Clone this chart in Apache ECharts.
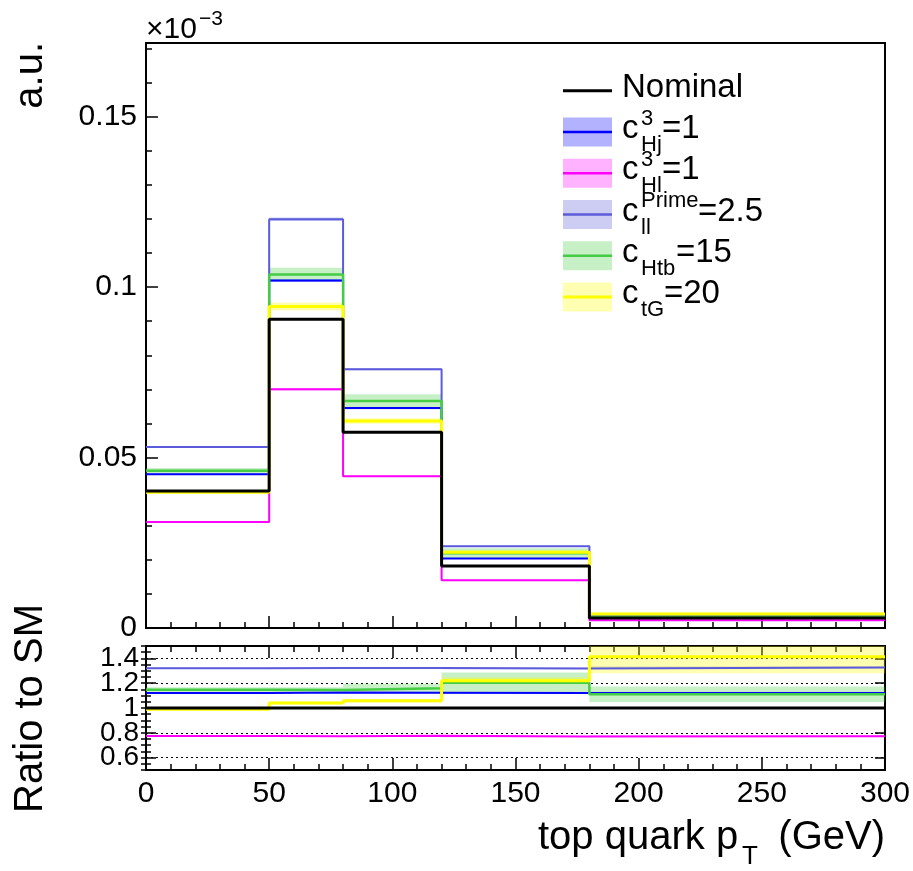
<!DOCTYPE html>
<html><head><meta charset="utf-8">
<script src="https://cdn.jsdelivr.net/npm/echarts@6/dist/echarts.min.js"></script>
<style>html,body{margin:0;padding:0;background:#fff}#c{width:913px;height:871px}</style>
</head><body><div id="c"></div>
<script>
// ---- data (values in units of 1e-3) ----
const binEdges   = [0, 50, 80, 120, 180, 300];
const nominal    = [0.0402, 0.0906, 0.0574, 0.0182, 0.0029];
const cHj3       = [0.0451, 0.1019, 0.0645, 0.0204, 0.00325];
const cHl3       = [0.0311, 0.0700, 0.0445, 0.0140, 0.00224];
const cllPrime   = [0.0531, 0.1199, 0.0759, 0.0240, 0.00385];
const cHtb       = [0.0461, 0.1037, 0.0666, 0.0219, 0.00322];
const ctG        = [0.0398, 0.0943, 0.0607, 0.0222, 0.0041];
const errHj3     = [0.0002, 0.0004, 0.0003, 0.0001, 0.00002];
const errHl3     = [0.0001, 0.0003, 0.0002, 0.0001, 0.00002];
const errllPrime = [0.0002, 0.0005, 0.0003, 0.0001, 0.00002];
const errHtb     = [0.0008, 0.0020, 0.0020, 0.0015, 0.00018];
const errtG      = [0.0004, 0.0012, 0.0008, 0.0005, 0.00039];
const xTickLabels      = [0, 50, 100, 150, 200, 250, 300];
const mainYTickLabels  = [0, 0.05, 0.1, 0.15];
const ratioYTickLabels = [0.6, 0.8, 1, 1.2, 1.4];
const ratioYLabelsA    = [0.6, 1, 1.4];
const ratioYLabelsB    = [0.8, 1.2];

const FONT = '"Liberation Sans", Arial, Helvetica, sans-serif';
const variations = [
  {vals: cHj3,     err: errHj3,     line: '#0000ff', band: 'rgba(0,0,255,0.3)',    w: 2},
  {vals: cHl3,     err: errHl3,     line: '#ff00ff', band: 'rgba(255,0,255,0.3)',  w: 2},
  {vals: cllPrime, err: errllPrime, line: '#5b5bdb', band: 'rgba(90,90,220,0.3)',  w: 2},
  {vals: cHtb,     err: errHtb,     line: '#44cc44', band: 'rgba(68,204,68,0.3)',  w: 2.5},
  {vals: ctG,      err: errtG,      line: '#ffff00', band: 'rgba(255,255,0,0.3)',  w: 3}
];

function stepData(vals) {
  const d = vals.map((v, i) => [binEdges[i], v]);
  d.push([binEdges[binEdges.length - 1], vals[vals.length - 1]]);
  return d;
}
function bandData(vals, err) {
  return vals.map((v, i) => [binEdges[i], binEdges[i + 1], v - err[i], v + err[i]]);
}
function bandRender(color) {
  return function (params, api) {
    const p0 = api.coord([api.value(0), api.value(3)]);
    const p1 = api.coord([api.value(1), api.value(2)]);
    const cs = params.coordSys;
    const r = echarts.graphic.clipRectByRect(
      {x: p0[0], y: p0[1], width: p1[0] - p0[0], height: p1[1] - p0[1]},
      {x: cs.x, y: cs.y, width: cs.width, height: cs.height});
    return r && {type: 'rect', shape: r, style: {fill: color}};
  };
}

const ratioOf = (vals) => vals.map((v, i) => v / nominal[i]);
const ratioErr = (err) => err.map((e, i) => e / nominal[i]);

const series = [];
variations.forEach(v => {
  series.push({type: 'custom', xAxisIndex: 0, yAxisIndex: 0, renderItem: bandRender(v.band),
    data: bandData(v.vals, v.err), encode: {x: [0, 1], y: [2, 3]}, silent: true, z: 1});
  series.push({type: 'custom', xAxisIndex: 1, yAxisIndex: 2, renderItem: bandRender(v.band),
    data: bandData(ratioOf(v.vals), ratioErr(v.err)), encode: {x: [0, 1], y: [2, 3]}, silent: true, z: 1});
});
variations.forEach(v => {
  series.push({type: 'line', step: 'end', xAxisIndex: 0, yAxisIndex: 0, data: stepData(v.vals),
    symbol: 'none', lineStyle: {color: v.line, width: v.w}, silent: true, z: 2});
  series.push({type: 'line', step: 'end', xAxisIndex: 1, yAxisIndex: 2, data: stepData(ratioOf(v.vals)),
    symbol: 'none', lineStyle: {color: v.line, width: v.w}, silent: true, z: 2});
});
series.push({type: 'line', step: 'end', xAxisIndex: 0, yAxisIndex: 0, data: stepData(nominal),
  symbol: 'none', lineStyle: {color: '#000', width: 3}, silent: true, z: 3});
series.push({type: 'line', step: 'end', xAxisIndex: 1, yAxisIndex: 2, data: stepData(ratioOf(nominal)),
  symbol: 'none', lineStyle: {color: '#000', width: 3}, silent: true, z: 3});

const MAIN_MAX = 0.1716;
const tickLabel = {fontFamily: FONT, fontSize: 30, color: '#000', hideOverlap: false};
const tk = {color: '#000', width: 1.5};

const option = {
  animation: false,
  backgroundColor: '#fff',
  grid: [
    {left: 146, right: 28, top: 43, height: 585, show: true, borderColor: '#000', borderWidth: 2, backgroundColor: 'transparent'},
    {left: 146, right: 28, top: 646, height: 124, show: true, borderColor: '#000', borderWidth: 2, backgroundColor: 'transparent'}
  ],
  xAxis: [
    {gridIndex: 0, type: 'value', min: 0, max: 300, interval: 50,
      axisLine: {show: true, onZero: false, lineStyle: {color: '#000', width: 2}},
      axisTick: {show: true, inside: true, length: 12, lineStyle: tk},
      minorTick: {show: true, splitNumber: 5, length: 6, lineStyle: tk},
      axisLabel: {show: false}, splitLine: {show: false}},
    {gridIndex: 1, type: 'value', position: 'bottom', min: 0, max: 300, interval: 50,
      axisLine: {show: true, onZero: false, lineStyle: {color: '#000', width: 2}},
      axisTick: {show: true, inside: true, length: 12, lineStyle: tk},
      minorTick: {show: true, splitNumber: 5, length: 6, lineStyle: tk},
      axisLabel: Object.assign({show: true, margin: 9, customValues: xTickLabels}, tickLabel),
      splitLine: {show: false}},
    {gridIndex: 1, type: 'value', position: 'top', min: 0, max: 300, interval: 50,
      axisLine: {show: true, onZero: false, lineStyle: {color: '#000', width: 2}},
      axisTick: {show: true, inside: true, length: 12, lineStyle: tk},
      minorTick: {show: true, splitNumber: 5, length: 6, lineStyle: tk},
      axisLabel: {show: false}, splitLine: {show: false}}
  ],
  yAxis: [
    {gridIndex: 0, type: 'value', position: 'left', min: 0, max: MAIN_MAX,
      axisLine: {show: true, onZero: false, lineStyle: {color: '#000', width: 2}},
      axisTick: {show: true, inside: true, length: 12, customValues: mainYTickLabels, lineStyle: tk},
      axisLabel: Object.assign({show: true, margin: 9, customValues: mainYTickLabels,
        formatter: v => String(v)}, tickLabel),
      splitLine: {show: false}},
    {gridIndex: 0, type: 'value', position: 'left', min: 0, max: MAIN_MAX, interval: 0.01,
      axisLine: {show: false},
      axisTick: {show: true, inside: true, length: 6, lineStyle: tk},
      axisLabel: {show: false}, splitLine: {show: false}},
    {gridIndex: 1, type: 'value', position: 'left', min: 0.5, max: 1.5,
      axisLine: {show: true, onZero: false, lineStyle: {color: '#000', width: 2}},
      axisTick: {show: true, inside: true, length: 10, customValues: ratioYTickLabels, lineStyle: tk},
      axisLabel: Object.assign({show: true, margin: 7, customValues: ratioYLabelsA,
        formatter: v => String(v)}, tickLabel, {fontSize: 28}),
      splitLine: {show: true, lineStyle: {color: '#000', width: 1.2, type: [2, 3]}}},
    {gridIndex: 1, type: 'value', position: 'left', min: 0.5, max: 1.5, interval: 0.05,
      axisLine: {show: false},
      axisTick: {show: true, inside: true, length: 5, lineStyle: tk},
      axisLabel: {show: false}, splitLine: {show: false}},
    {gridIndex: 1, type: 'value', position: 'right', min: 0.5, max: 1.5,
      axisLine: {show: true, onZero: false, lineStyle: {color: '#000', width: 2}},
      axisTick: {show: true, inside: true, length: 10, customValues: ratioYTickLabels, lineStyle: tk},
      axisLabel: {show: false}, splitLine: {show: false}},
    {gridIndex: 1, type: 'value', position: 'right', min: 0.5, max: 1.5, interval: 0.05,
      axisLine: {show: false},
      axisTick: {show: true, inside: true, length: 5, lineStyle: tk},
      axisLabel: {show: false}, splitLine: {show: false}},
    {gridIndex: 1, type: 'value', position: 'left', offset: 0, min: 0.5, max: 1.5,
      axisLine: {show: false}, axisTick: {show: false},
      axisLabel: Object.assign({show: true, margin: 7, customValues: ratioYLabelsB,
        formatter: v => String(v)}, tickLabel, {fontSize: 28}),
      splitLine: {show: false}}
  ],
  series: series,
  graphic: []
};

// ---- texts and legend ----
const G = option.graphic;
function txt(x, y, text, size, align, extra) {
  G.push(Object.assign({type: 'text', x: x, y: y, silent: true, z: 10,
    style: {text: text, fill: '#000', font: size + 'px ' + FONT, align: align || 'left', verticalAlign: 'middle'}}, extra || {}));
}
txt(31, 42, 'a.u.', 40, 'right', {rotation: Math.PI / 2});
txt(31, 813, 'Ratio to SM', 40, 'left', {rotation: Math.PI / 2});
txt(538, 838, 'top quark p', 40, 'left');
txt(742, 857, 'T', 26, 'left');
txt(885, 838, '(GeV)', 40, 'right');
txt(146, 30, '\u00d710', 30, 'left');
txt(199, 19, '\u22123', 21, 'left');

const legendRows = [
  {c: '#000', band: null, main: 'Nominal', sup: '', sub: '', tail: '', tailX: 0, w: 3},
  {c: '#0000ff', band: 'rgba(0,0,255,0.3)', main: 'c', sup: '3', sub: 'Hj', tail: '=1', tailX: 662, w: 2.5},
  {c: '#ff00ff', band: 'rgba(255,0,255,0.3)', main: 'c', sup: '3', sub: 'Hl', tail: '=1', tailX: 662, w: 2.5},
  {c: '#5b5bdb', band: 'rgba(90,90,220,0.3)', main: 'c', sup: 'Prime', sub: 'll', tail: '=2.5', tailX: 698, w: 2.5},
  {c: '#44cc44', band: 'rgba(68,204,68,0.3)', main: 'c', sup: '', sub: 'Htb', tail: '=15', tailX: 676, w: 2.5},
  {c: '#ffff00', band: 'rgba(255,255,0,0.3)', main: 'c', sup: '', sub: 'tG', tail: '=20', tailX: 664, w: 3}
];
legendRows.forEach((r, i) => {
  const y = 90.7 + i * 41.26;
  if (r.band) G.push({type: 'rect', silent: true, z: 10, shape: {x: 563, y: y - 14.5, width: 49, height: 29}, style: {fill: r.band}});
  G.push({type: 'line', silent: true, z: 11, shape: {x1: 563, y1: y, x2: 612, y2: y}, style: {stroke: r.c, lineWidth: r.w}});
  txt(622, y - 3, r.main, 33, 'left');
  if (r.sup) txt(641, y - 13.5, r.sup, 22, 'left');
  if (r.sub) txt(641, y + 13, r.sub, 22, 'left');
  if (r.tail) txt(r.tailX, y - 3, r.tail, 33, 'left');
});

const chart = echarts.init(document.getElementById('c'), null, {renderer: 'canvas'});
chart.setOption(option);
</script>
</body></html>
